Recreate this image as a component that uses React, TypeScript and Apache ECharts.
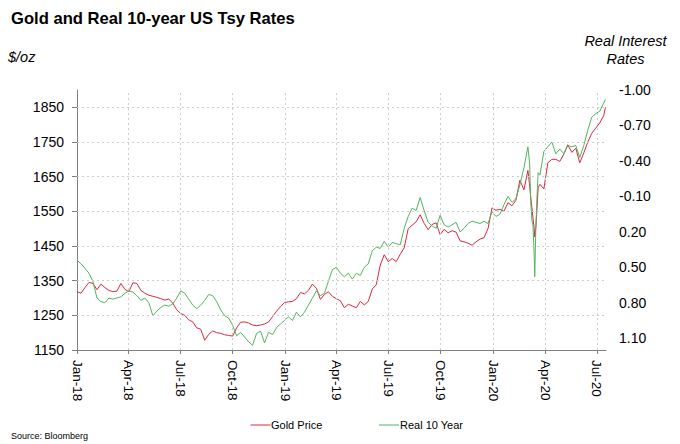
import React, { useEffect, useRef } from "react";
import * as echarts from "echarts";

// Day offsets from 2018-01-01 (weekly, denser in March 2020)
const days = [
  0, 7, 14, 21, 28, 35, 42, 49, 56, 63,
  70, 77, 84, 91, 98, 105, 112, 119, 126, 133,
  140, 147, 154, 161, 168, 175, 182, 189, 196, 203,
  210, 217, 224, 231, 238, 245, 252, 259, 266, 273,
  280, 287, 294, 301, 308, 315, 322, 329, 336, 343,
  350, 357, 364, 371, 378, 385, 392, 399, 406, 413,
  420, 427, 434, 441, 448, 455, 462, 469, 476, 483,
  490, 497, 504, 511, 518, 525, 532, 539, 546, 553,
  560, 567, 574, 581, 588, 595, 602, 609, 616, 623,
  630, 637, 644, 651, 658, 665, 672, 679, 686, 693,
  700, 707, 714, 721, 728, 735, 742, 749, 756, 763,
  770, 777, 784, 791, 794, 796, 798, 800, 802, 803,
  805, 807, 809, 812, 819, 826, 833, 840, 847, 854,
  861, 868, 875, 882, 889, 896, 903, 910, 917, 924,
  927,
];

const goldPrice = [
  1318, 1314, 1330, 1345, 1342, 1324, 1340, 1330, 1322, 1318,
  1320, 1342, 1325, 1318, 1344, 1342, 1322, 1314, 1308, 1305,
  1302, 1298, 1294, 1297, 1285, 1266, 1255, 1250, 1237, 1231,
  1214, 1210, 1178, 1195, 1205, 1200, 1198, 1194, 1192, 1190,
  1214, 1230, 1231, 1228, 1222, 1220, 1222, 1225, 1231, 1246,
  1262, 1275, 1287, 1289, 1290, 1298, 1316, 1312, 1322, 1340,
  1328, 1296, 1310, 1318, 1305, 1298, 1292, 1272, 1282, 1277,
  1272, 1290, 1280, 1290, 1326, 1338, 1395, 1425, 1405, 1414,
  1405, 1426, 1445, 1500, 1510, 1520, 1540, 1515, 1497, 1512,
  1517, 1483, 1498, 1488, 1494, 1490, 1465, 1462, 1458, 1452,
  1462, 1470, 1474, 1500, 1560, 1553, 1556, 1550, 1575, 1566,
  1582, 1640, 1612, 1668, 1625, 1590, 1562, 1530, 1500, 1476,
  1505, 1560, 1618, 1628, 1615, 1690, 1700, 1700, 1694, 1715,
  1742, 1720, 1732, 1690, 1718, 1750, 1775, 1790, 1805, 1826,
  1850,
];

const real10Year = [
  0.44, 0.47, 0.51, 0.55, 0.62, 0.76, 0.79, 0.8, 0.76, 0.77,
  0.76, 0.75, 0.72, 0.7, 0.71, 0.74, 0.78, 0.76, 0.8, 0.91,
  0.87, 0.84, 0.82, 0.83, 0.81, 0.76, 0.7, 0.72, 0.77, 0.82,
  0.85, 0.82, 0.78, 0.73, 0.74, 0.79, 0.86, 0.91, 0.93, 0.99,
  1.08, 1.05, 1.09, 1.13, 1.16, 1.06, 1.04, 1.14, 1.05, 1.07,
  1.01, 0.98, 0.95, 0.92, 0.95, 0.88, 0.92, 0.88, 0.82, 0.76,
  0.7, 0.74, 0.72, 0.62, 0.52, 0.5, 0.55, 0.58, 0.55, 0.6,
  0.55, 0.57, 0.5, 0.47, 0.36, 0.33, 0.34, 0.28, 0.33, 0.29,
  0.3, 0.31, 0.17, 0.07, 0.0, 0.02, -0.09, 0.02, 0.12, 0.15,
  0.17, 0.06, 0.14, 0.16, 0.14, 0.12, 0.2, 0.17, 0.13, 0.11,
  0.12, 0.13, 0.11, 0.13, 0.03, 0.07, 0.05, -0.03, -0.1, -0.05,
  -0.08, -0.2, -0.34, -0.52, -0.38, -0.05, 0.1, 0.15, 0.4, 0.58,
  0.15, -0.1, -0.3, -0.28, -0.48, -0.52, -0.56, -0.46, -0.5, -0.46,
  -0.53, -0.52, -0.53, -0.43, -0.53, -0.66, -0.77, -0.8, -0.82, -0.89,
  -0.92,
];

const quarterDays = [0, 90, 181, 273, 365, 455, 546, 638, 730, 821, 912];
const quarterLabels = [
  "Jan-18", "Apr-18", "Jul-18", "Oct-18", "Jan-19", "Apr-19",
  "Jul-19", "Oct-19", "Jan-20", "Apr-20", "Jul-20",
];
const goldTicks = [1150, 1250, 1350, 1450, 1550, 1650, 1750, 1850];
const rateTicks = [-1.0, -0.7, -0.4, -0.1, 0.2, 0.5, 0.8, 1.1];

const FONT = '"Liberation Sans", Arial, sans-serif';
const RED = "#d9293f";
const GREEN = "#52b45e";
const AXIS = "#808080";
const GRID = "#cdcdcd";

export default function App() {
  const ref = useRef<HTMLDivElement>(null);

  useEffect(() => {
    if (!ref.current) return;
    const chart = echarts.init(ref.current, null, { renderer: "svg" });
    const gold = days.map((d, i) => [d, goldPrice[i]]);
    const real = days.map((d, i) => [d, real10Year[i]]);

    const option: any = {
      animation: false,
      backgroundColor: "#ffffff",
      textStyle: { fontFamily: FONT },
      grid: {
        left: 77,
        right: 74,
        top: 90,
        bottom: 94,
        containLabel: false,
        outerBoundsMode: "none",
      },
      xAxis: {
        type: "value",
        min: 0,
        max: 928,
        axisLine: { show: true, onZero: false, lineStyle: { color: AXIS, width: 1 } },
        axisTick: {
          show: true,
          length: 4,
          customValues: quarterDays,
          lineStyle: { color: AXIS },
        },
        axisLabel: {
          customValues: quarterDays,
          rotate: -90,
          margin: 10,
          fontSize: 13.5,
          color: "#000",
          fontFamily: FONT,
          formatter: (v: number) => {
            const idx = quarterDays.indexOf(v);
            return idx >= 0 ? quarterLabels[idx] : "";
          },
        },
        splitLine: { show: false },
      },
      yAxis: [
        {
          type: "value",
          position: "left",
          min: 1150,
          max: 1900,
          axisLine: { show: true, onZero: false, lineStyle: { color: AXIS, width: 1 } },
          axisTick: {
            show: true,
            length: 5,
            customValues: goldTicks,
            lineStyle: { color: AXIS },
          },
          axisLabel: {
            customValues: goldTicks,
            fontSize: 14,
            margin: 13,
            color: "#000",
            fontFamily: FONT,
            formatter: (v: number) => String(v),
          },
          splitLine: { show: false },
        },
        {
          type: "value",
          position: "right",
          min: -1,
          max: 1.2,
          inverse: true,
          axisLine: { show: false },
          axisTick: { show: false },
          axisLabel: {
            customValues: rateTicks,
            fontSize: 14,
            margin: 13,
            color: "#000",
            fontFamily: FONT,
            formatter: (v: number) => v.toFixed(2),
          },
          splitLine: { show: false },
        },
      ],
      series: [
        {
          name: "grid",
          type: "line",
          yAxisIndex: 0,
          data: [],
          silent: true,
          z: 1,
          markLine: {
            silent: true,
            animation: false,
            symbol: ["none", "none"],
            label: { show: false },
            emphasis: { disabled: true },
            lineStyle: { color: GRID, type: [2, 3], width: 1 },
            data: [
              ...quarterDays.slice(1).map((d) => [
                { coord: [d, 1150] },
                { coord: [d, 1900] },
              ]),
              ...goldTicks.slice(1).map((v) => [
                { coord: [0, v] },
                { coord: [928, v] },
              ]),
            ],
          },
        },
        {
          name: "Gold Price",
          type: "line",
          yAxisIndex: 0,
          data: gold,
          showSymbol: false,
          symbol: "none",
          lineStyle: { color: RED, width: 1 },
          itemStyle: { color: RED },
          emphasis: { disabled: true },
          z: 3,
        },
        {
          name: "Real 10 Year",
          type: "line",
          yAxisIndex: 1,
          data: real,
          showSymbol: false,
          symbol: "none",
          lineStyle: { color: GREEN, width: 1 },
          itemStyle: { color: GREEN },
          emphasis: { disabled: true },
          z: 4,
        },
      ],
      graphic: [
        {
          type: "text",
          x: 11,
          y: 18,
          style: {
            text: "Gold and Real 10-year US Tsy Rates",
            fontSize: 16.6,
            fontWeight: "bold",
            fontFamily: FONT,
            fill: "#000",
            align: "left",
            verticalAlign: "middle",
          },
        },
        {
          type: "text",
          x: 8,
          y: 57,
          style: {
            text: "$/oz",
            fontSize: 14.5,
            fontStyle: "italic",
            fontFamily: FONT,
            fill: "#000",
            align: "left",
            verticalAlign: "middle",
          },
        },
        {
          type: "text",
          x: 625.5,
          y: 41,
          style: {
            text: "Real Interest",
            fontSize: 14.5,
            fontStyle: "italic",
            fontFamily: FONT,
            fill: "#000",
            align: "center",
            verticalAlign: "middle",
          },
        },
        {
          type: "text",
          x: 625.5,
          y: 59,
          style: {
            text: "Rates",
            fontSize: 14.5,
            fontStyle: "italic",
            fontFamily: FONT,
            fill: "#000",
            align: "center",
            verticalAlign: "middle",
          },
        },
        {
          type: "line",
          shape: { x1: 250.5, y1: 425, x2: 270.5, y2: 425 },
          style: { stroke: RED, lineWidth: 1 },
        },
        {
          type: "text",
          x: 271,
          y: 425,
          style: {
            text: "Gold Price",
            fontSize: 11,
            fontFamily: FONT,
            fill: "#000",
            align: "left",
            verticalAlign: "middle",
          },
        },
        {
          type: "line",
          shape: { x1: 379, y1: 425, x2: 399, y2: 425 },
          style: { stroke: GREEN, lineWidth: 1 },
        },
        {
          type: "text",
          x: 400,
          y: 425,
          style: {
            text: "Real 10 Year",
            fontSize: 11,
            fontFamily: FONT,
            fill: "#000",
            align: "left",
            verticalAlign: "middle",
          },
        },
        {
          type: "text",
          x: 11,
          y: 436,
          style: {
            text: "Source: Bloomberg",
            fontSize: 9,
            fontFamily: FONT,
            fill: "#000",
            align: "left",
            verticalAlign: "middle",
          },
        },
      ],
    };

    chart.setOption(option);
    return () => {
      chart.dispose();
    };
  }, []);

  return (
    <div
      ref={ref}
      style={{ position: "fixed", left: 0, top: 0, width: 680, height: 444, background: "#fff" }}
    />
  );
}
